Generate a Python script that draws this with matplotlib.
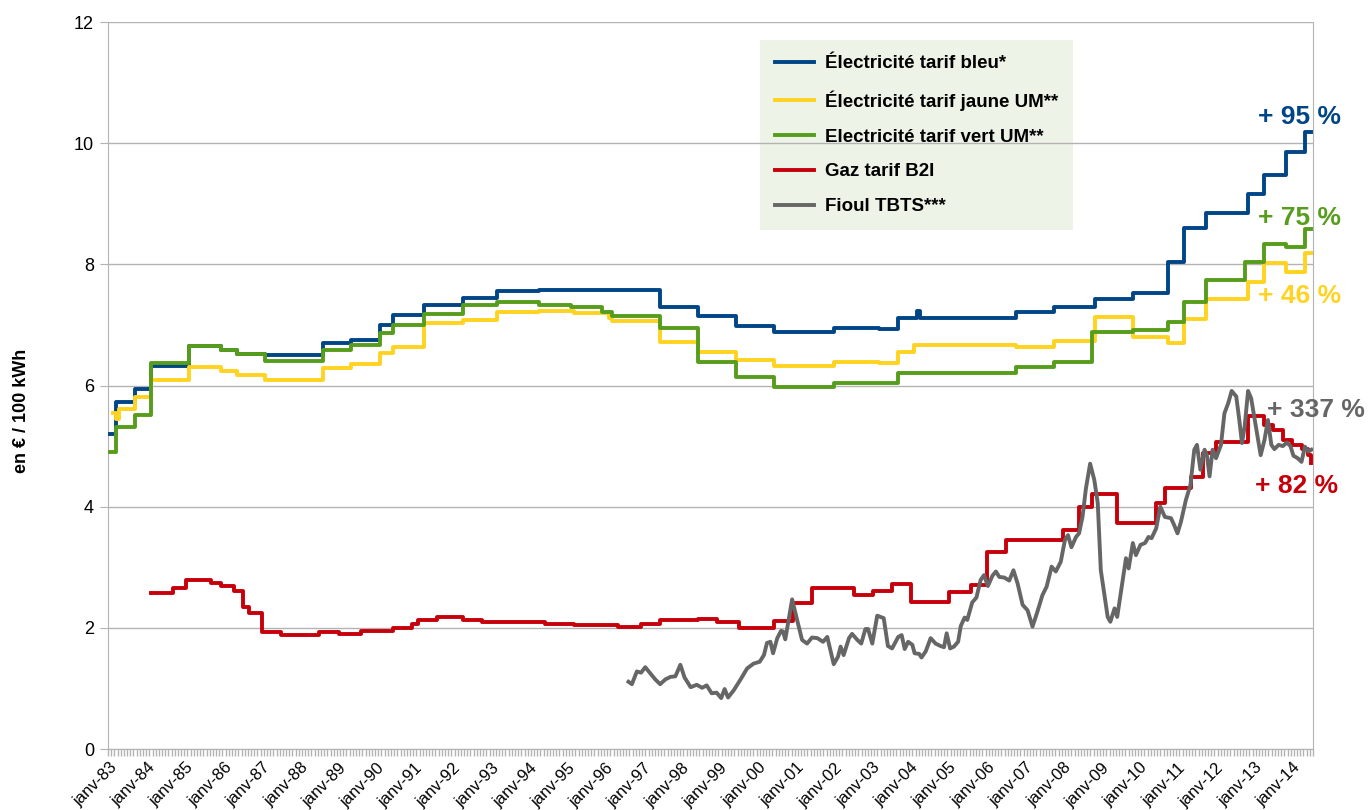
import numpy as np
import matplotlib.pyplot as plt
from matplotlib.ticker import FixedLocator, NullFormatter

plt.rcParams['font.family'] = ['Liberation Sans', 'DejaVu Sans']

# Prix de l'énergie en € / 100 kWh, dates de changement de tarif (aaaa-mm)
bleu_dates = ["1983-01", "1983-03", "1983-09", "1984-02", "1985-02", "1985-12", "1986-05",
              "1987-02", "1988-08", "1989-05", "1990-02", "1990-06", "1991-04", "1992-04",
              "1993-03", "1994-04", "1997-06", "1998-06", "1999-06", "2000-06", "2002-01",
              "2003-03", "2003-09", "2004-03", "2004-04", "2006-10", "2007-10", "2008-11",
              "2009-11", "2010-10", "2011-03", "2011-10", "2012-11", "2013-04", "2013-11",
              "2014-05"]
bleu_prix = [5.20, 5.73, 5.94, 6.32, 6.65, 6.59, 6.52, 6.50, 6.70, 6.75, 7.00, 7.16, 7.33, 7.45,
             7.56, 7.58, 7.30, 7.15, 6.98, 6.88, 6.95, 6.93, 7.11, 7.23, 7.11, 7.21, 7.30, 7.43,
             7.53, 8.04, 8.60, 8.85, 9.16, 9.47, 9.85, 10.18]

jaune_dates = ["1983-02", "1983-03", "1983-04", "1983-09", "1984-02", "1985-02", "1985-12",
               "1986-05", "1987-02", "1988-08", "1989-05", "1990-02", "1990-06", "1991-04",
               "1992-04", "1993-03", "1994-04", "1995-03", "1996-02", "1996-03", "1997-06",
               "1998-06", "1999-06", "2000-06", "2002-01", "2003-03", "2003-09", "2004-02",
               "2006-10", "2007-10", "2008-11", "2009-11", "2010-10", "2011-03", "2011-10",
               "2012-11", "2013-04", "2013-11", "2014-05"]
jaune_prix = [5.55, 5.45, 5.62, 5.81, 6.09, 6.31, 6.24, 6.17, 6.09, 6.29, 6.36, 6.53, 6.64, 7.03,
              7.08, 7.21, 7.23, 7.19, 7.11, 7.06, 6.72, 6.55, 6.42, 6.32, 6.39, 6.37, 6.55, 6.67,
              6.64, 6.73, 7.13, 6.80, 6.70, 7.10, 7.43, 7.71, 8.02, 7.87, 8.19]

vert_dates = ["1983-01", "1983-03", "1983-09", "1984-02", "1985-02", "1985-12", "1986-05",
              "1987-02", "1988-08", "1989-05", "1990-02", "1990-06", "1991-04", "1992-04",
              "1993-03", "1994-04", "1995-02", "1995-12", "1996-03", "1997-06", "1998-06",
              "1999-06", "2000-06", "2002-01", "2003-09", "2006-10", "2007-10", "2008-10",
              "2009-11", "2010-10", "2011-03", "2011-10", "2012-10", "2013-04", "2013-11",
              "2014-05"]
vert_prix = [4.90, 5.32, 5.51, 6.37, 6.65, 6.59, 6.52, 6.40, 6.59, 6.67, 6.86, 7.00, 7.18, 7.33,
             7.38, 7.33, 7.30, 7.22, 7.15, 6.95, 6.39, 6.14, 5.98, 6.04, 6.21, 6.31, 6.39, 6.88,
             6.91, 7.05, 7.38, 7.74, 8.04, 8.34, 8.29, 8.58]

gaz_dates = ["1984-02", "1984-09", "1985-01", "1985-09", "1985-12", "1986-04", "1986-07",
             "1986-09", "1987-01", "1987-07", "1988-07", "1989-01", "1989-08", "1990-06",
             "1990-12", "1991-02", "1991-08", "1992-04", "1992-10", "1994-06", "1995-03",
             "1996-05", "1996-12", "1997-06", "1998-06", "1998-12", "1999-07", "2000-06",
             "2000-12", "2001-06", "2002-07", "2003-01", "2003-07", "2004-01", "2005-01",
             "2005-08", "2006-01", "2006-07", "2008-01", "2008-06", "2008-10", "2009-06",
             "2010-06", "2010-09", "2011-05", "2011-09", "2012-01", "2012-11", "2013-04",
             "2013-07", "2013-10", "2014-01", "2014-04", "2014-06", "2014-07"]
gaz_prix = [2.57, 2.66, 2.79, 2.74, 2.69, 2.61, 2.35, 2.25, 1.93, 1.88, 1.93, 1.89, 1.94, 2.00,
            2.07, 2.13, 2.18, 2.13, 2.09, 2.06, 2.04, 2.02, 2.06, 2.13, 2.15, 2.10, 1.99, 2.11,
            2.41, 2.66, 2.54, 2.61, 2.72, 2.42, 2.59, 2.71, 3.25, 3.45, 3.61, 4.00, 4.21, 3.73,
            4.06, 4.31, 4.49, 4.89, 5.07, 5.50, 5.35, 5.27, 5.10, 5.02, 4.95, 4.85, 4.72]

# Fioul : relevé mensuel (années décimales)
fioul_annee = [1996.60, 1996.69, 1996.82, 1996.93, 1997.04, 1997.17, 1997.30, 1997.43, 1997.57,
               1997.70, 1997.83, 1997.96, 1998.07, 1998.23, 1998.39, 1998.53, 1998.65, 1998.78,
               1998.91, 1999.03, 1999.12, 1999.21, 1999.36, 1999.53, 1999.71, 1999.88, 2000.04,
               2000.15, 2000.23, 2000.32, 2000.39, 2000.50, 2000.60, 2000.65, 2000.71, 2000.89,
               2001.02, 2001.15, 2001.28, 2001.41, 2001.55, 2001.70, 2001.81, 2001.98, 2002.09,
               2002.16, 2002.24, 2002.38, 2002.46, 2002.60, 2002.70, 2002.81, 2002.88, 2002.99,
               2003.12, 2003.29, 2003.40, 2003.51, 2003.67, 2003.76, 2003.84, 2003.93, 2004.04,
               2004.10, 2004.22, 2004.28, 2004.39, 2004.52, 2004.65, 2004.78, 2004.87, 2004.94,
               2005.03, 2005.13, 2005.24, 2005.31, 2005.41, 2005.48, 2005.61, 2005.72, 2005.83,
               2005.92, 2006.02, 2006.14, 2006.23, 2006.32, 2006.45, 2006.58, 2006.69, 2006.80,
               2006.93, 2007.06, 2007.19, 2007.32, 2007.45, 2007.56, 2007.69, 2007.80, 2007.93,
               2008.04, 2008.12, 2008.21, 2008.33, 2008.41, 2008.50, 2008.59, 2008.70, 2008.81,
               2008.90, 2008.98, 2009.07, 2009.16, 2009.23, 2009.34, 2009.41, 2009.53, 2009.64,
               2009.71, 2009.82, 2009.90, 2010.02, 2010.14, 2010.23, 2010.31, 2010.43, 2010.54,
               2010.66, 2010.82, 2010.90, 2010.99, 2011.08, 2011.21, 2011.33, 2011.43, 2011.50,
               2011.59, 2011.70, 2011.76, 2011.83, 2011.91, 2012.00, 2012.13, 2012.22, 2012.32,
               2012.41, 2012.53, 2012.61, 2012.68, 2012.75, 2012.84, 2012.92, 2013.03, 2013.17,
               2013.27, 2013.36, 2013.45, 2013.53, 2013.64, 2013.75, 2013.86, 2013.95, 2014.03,
               2014.14, 2014.24, 2014.33, 2014.42, 2014.50]
fioul_prix = [1.11, 1.07, 1.28, 1.26, 1.35, 1.25, 1.15, 1.07, 1.15, 1.19, 1.20, 1.39, 1.18, 1.02,
              1.06, 1.01, 1.05, 0.92, 0.93, 0.84, 0.99, 0.85, 0.97, 1.14, 1.33, 1.41, 1.44, 1.55,
              1.75, 1.77, 1.58, 1.83, 1.95, 1.94, 1.81, 2.47, 2.13, 1.80, 1.74, 1.84, 1.83, 1.77,
              1.85, 1.40, 1.52, 1.69, 1.55, 1.83, 1.90, 1.80, 1.74, 1.98, 1.98, 1.74, 2.20, 2.16,
              1.70, 1.66, 1.85, 1.88, 1.65, 1.77, 1.72, 1.58, 1.57, 1.51, 1.61, 1.83, 1.74, 1.70,
              1.68, 1.91, 1.66, 1.69, 1.77, 2.03, 2.17, 2.13, 2.42, 2.50, 2.79, 2.87, 2.69, 2.86,
              2.93, 2.84, 2.83, 2.78, 2.95, 2.73, 2.38, 2.29, 2.02, 2.27, 2.54, 2.68, 3.01, 2.93,
              3.09, 3.45, 3.53, 3.33, 3.50, 3.56, 3.83, 4.30, 4.71, 4.44, 4.06, 2.95, 2.57, 2.18,
              2.10, 2.32, 2.18, 2.68, 3.15, 2.98, 3.40, 3.20, 3.37, 3.40, 3.50, 3.48, 3.64, 4.00,
              3.83, 3.81, 3.70, 3.56, 3.75, 4.11, 4.36, 4.94, 5.02, 4.61, 4.94, 4.85, 4.50, 4.94,
              4.80, 5.02, 5.54, 5.71, 5.91, 5.82, 5.43, 5.05, 5.32, 5.91, 5.79, 5.38, 4.85, 5.10,
              5.43, 5.02, 4.95, 5.02, 5.00, 5.06, 5.00, 4.84, 4.80, 4.74, 4.99, 4.91, 4.94]

# Évolutions affichées en bout de courbe
hausses = ["+ 95 %", "+ 75 %", "+ 46 %", "+ 337 %", "+ 82 %"]

debut, fin = "1983-01", "2014-07"
annees = list(range(1983, 2015))
etiquettes = ["janv-%02d" % (a % 100) for a in annees]


def annee(d):
    a, m = d.split("-")
    return int(a) + (int(m) - 1) / 12


c_bleu = "#004586"
c_jaune = "#ffd320"
c_vert = "#579d1c"
c_rouge = "#c5000b"
c_gris = "#666666"
c_grille = "#b3b3b3"

fig = plt.figure(figsize=(13.69, 8.10), dpi=100)
ax = fig.add_axes([108 / 1369, 1 - 749 / 810, 1205 / 1369, 727 / 810])

t_fin = annee(fin)
lw = 2.8
series = [
    (bleu_dates, bleu_prix, c_bleu, "Électricité tarif bleu*"),
    (jaune_dates, jaune_prix, c_jaune, "Électricité tarif jaune UM**"),
    (vert_dates, vert_prix, c_vert, "Electricité tarif vert UM**"),
    (gaz_dates, gaz_prix, c_rouge, "Gaz tarif B2I"),
]
for dates, prix, couleur, nom in series:
    x = [annee(d) for d in dates] + [t_fin]
    y = list(prix) + [prix[-1]]
    ax.step(x, y, where="post", color=couleur, lw=lw, label=nom, zorder=3)

ax.plot(fioul_annee, fioul_prix, color=c_gris, lw=lw, label="Fioul TBTS***", zorder=3)

# Axes
t0 = annee(debut)
ax.set_xlim(t0 - 1 / 24, t_fin + 1 / 24)
ax.set_ylim(0, 12)
ax.set_yticks(range(0, 13, 2))
ax.set_xticks([a for a in annees])
ax.set_xticklabels(etiquettes, rotation=45, ha="right", rotation_mode="anchor", fontsize=12)
n_mois = int(round((t_fin - t0) * 12)) + 1
ax.xaxis.set_minor_locator(FixedLocator(t0 - 1 / 24 + np.arange(n_mois + 1) / 12))
ax.xaxis.set_minor_formatter(NullFormatter())
ax.tick_params(axis="x", which="major", length=0, pad=8)
ax.tick_params(axis="x", which="minor", length=5, color=c_grille, width=1)
ax.tick_params(axis="y", length=6, color=c_grille, labelsize=13, pad=4)

ax.grid(axis="y", color=c_grille, lw=1)
ax.set_axisbelow(True)
for s in ["left", "bottom", "right"]:
    ax.spines[s].set_color(c_grille)
ax.spines["top"].set_visible(False)

fig.text(22 / 1369, 1 - 411 / 810, "en € / 100 kWh", rotation=90, ha="center", va="center",
         fontsize=13, fontweight="bold")

# Légende
leg = ax.legend(loc="upper left", bbox_to_anchor=(0.541, 0.975), borderaxespad=0,
                frameon=True, fancybox=False, facecolor="#eef3e8", edgecolor="none",
                framealpha=1, prop=dict(weight="bold", size=13.5), handlelength=2.1,
                handletextpad=0.55, labelspacing=0.95, borderpad=0.8)
leg.set_zorder(0.3)

# Annotations
couleurs = [c_bleu, c_vert, c_jaune, c_gris, c_rouge]
pos = [(2014.2, 10.43), (2014.2, 8.77), (2014.2, 7.48), (2014.63, 5.60), (2014.12, 4.34)]
for txt, col, (xt, yt) in zip(hausses, couleurs, pos):
    ax.text(xt, yt, txt, color=col, fontsize=19, fontweight="bold", ha="center", va="center",
            clip_on=False, zorder=4)

fig.savefig("out.png", dpi=100)
